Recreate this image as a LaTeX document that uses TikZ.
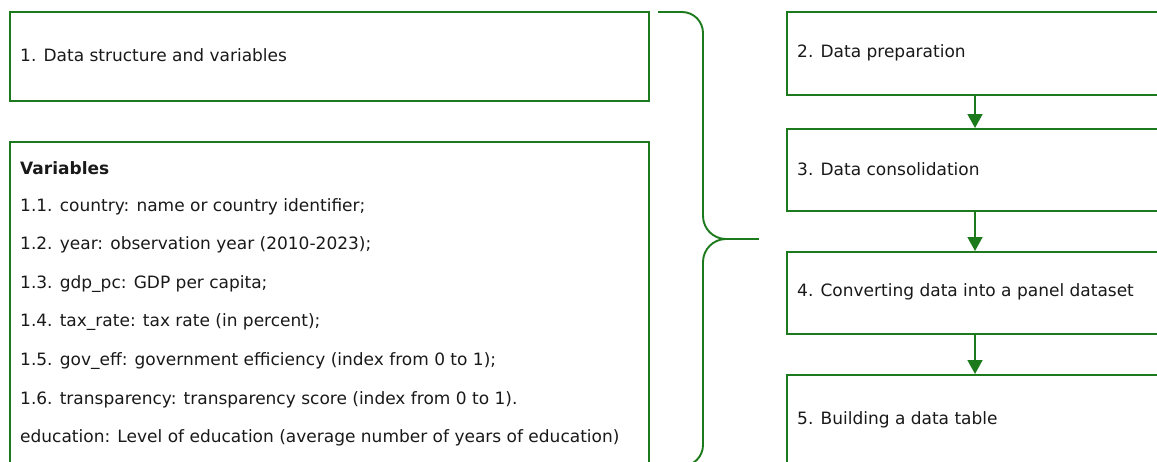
\documentclass[tikz,border=0pt]{standalone}
\usepackage{fontspec}
\setmainfont{DejaVu Sans}
\usetikzlibrary{arrows.meta}
\definecolor{grn}{RGB}{28,122,28}
\definecolor{txt}{RGB}{25,25,25}
\begin{document}
\begin{tikzpicture}[x=1pt,y=-1pt,
  box/.style={draw=grn, line width=1.7pt, rectangle, inner sep=0pt, anchor=north west},
  lbl/.style={anchor=west, inner sep=0pt, text=txt, font=\fontsize{17pt}{20pt}\selectfont},
  arr/.style={draw=grn, line width=1.7pt, -{Triangle[width=15pt,length=14pt]}},
  brc/.style={draw=grn, line width=1.9pt}
]
\useasboundingbox (0,0) rectangle (1157,461);
\clip (0,0) rectangle (1157,461);
% left boxes
\node[box, minimum width=639pt, minimum height=89pt] (b1) at (9,11) {};
\node[box, minimum width=639pt, minimum height=339pt] (var) at (9,141) {};
\node[lbl] (t1) at (20,55.5) {1. Data structure and variables};
\node[lbl, font=\fontsize{17pt}{20pt}\selectfont\bfseries] (v0) at (20,168) {Variables};
\node[lbl] (v1) at (20,206.6) {1.1. country: name or country identifier;};
\node[lbl] (v2) at (20,245.2) {1.2. year: observation year (2010-2023);};
\node[lbl] (v3) at (20,283.8) {1.3. gdp\_pc: GDP per capita;};
\node[lbl] (v4) at (20,322.4) {1.4. tax\_rate: tax rate (in percent);};
\node[lbl] (v5) at (20,361) {1.5. gov\_eff: government efficiency (index from 0 to 1);};
\node[lbl] (v6) at (20,399.6) {1.6. transparency: transparency score (index from 0 to 1).};
\node[lbl] (v7) at (20,438.2) {education: Level of education (average number of years of education)};
% right boxes
\node[box, minimum width=389pt, minimum height=83pt] (s2) at (786,11) {};
\node[box, minimum width=389pt, minimum height=82pt] (s3) at (786,128) {};
\node[box, minimum width=389pt, minimum height=82pt] (s4) at (786,251) {};
\node[box, minimum width=389pt, minimum height=106pt] (s5) at (786,374) {};
\node[lbl] (t2) at (797,52.5) {2. Data preparation};
\node[lbl] (t3) at (797,169) {3. Data consolidation};
\node[lbl] (t4) at (797,292) {4. Converting data into a panel dataset};
\node[lbl] (t5) at (797,420) {5. Building a data table};
% arrows
\coordinate (ax) at (975,0);
\draw[arr] (s2.south -| ax) -- (s3.north -| ax);
\draw[arr] (s3.south -| ax) -- (s4.north -| ax);
\draw[arr] (s4.south -| ax) -- (s5.north -| ax);
% brace
\coordinate (btop) at (658,12);
\coordinate (tip) at (726,239);
\coordinate (tipend) at (759,239);
\coordinate (bbot) at (658,466);
\draw[brc] (btop) -- (682,12) .. controls (693.6,12) and (703,21.4) .. (703,33)
  -- (703,216) .. controls (703,228.7) and (713.3,239) .. (tip)
  .. controls (713.3,239) and (703,249.3) .. (703,262)
  -- (703,445) .. controls (703,456.6) and (693.6,466) .. (682,466) -- (bbot);
\draw[brc] (tip) -- (tipend);
\end{tikzpicture}
\end{document}
